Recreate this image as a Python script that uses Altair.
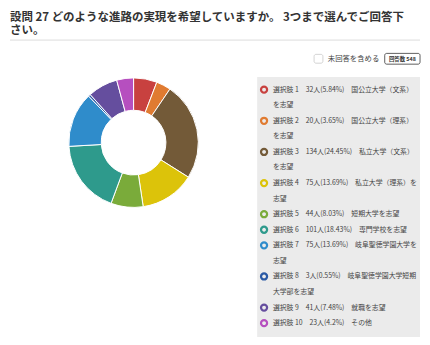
import altair as alt
import pandas as pd

# ---- data ----
choice_no = list(range(1, 11))
counts = [32, 20, 134, 75, 44, 101, 75, 3, 41, 23]
names_first = ["国公立大学（文系）", "国公立大学（理系）", "私立大学（文系）", "私立大学（理系）を",
               "短期大学を志望", "専門学校を志望", "岐阜聖徳学園大学を", "岐阜聖徳学園大学短期",
               "就職を志望", "その他"]
names_rest = ["を志望", "を志望", "を志望", "志望", "", "", "志望", "大学部を志望", "", ""]
colors = ["#c8413f", "#e07b31", "#735a38", "#dcc30a", "#7aab3a",
          "#2e9a8c", "#2f8ccb", "#2b5aa5", "#654e9e", "#b64fbf"]
title_lines = ["設問 27 どのような進路の実現を希望していますか。 3つまで選んでご回答下", "さい。"]
total = sum(counts)

FONT = "Noto Sans CJK JP"


def pct(c):
    return f"{c / total * 100:.2f}".rstrip("0").rstrip(".")


labels = [f"選択肢 {n}　{c}人({pct(c)}%)　{a}" for n, c, a in zip(choice_no, counts, names_first)]

pie_df = pd.DataFrame({"choice": [f"選択肢 {n}" for n in choice_no], "count": counts, "order": choice_no})

rows = []
line = 0
for n, lab, rest in zip(choice_no, labels, names_rest):
    rows.append({"choice": f"選択肢 {n}", "line": line, "text": lab, "first": True})
    line += 1
    if rest:
        rows.append({"choice": f"選択肢 {n}", "line": line, "text": rest, "first": False})
        line += 1
leg_df = pd.DataFrame(rows)
n_lines = line

color_scale = alt.Scale(domain=list(pie_df["choice"]), range=colors)
yscale = alt.Scale(domain=[0, n_lines - 1], range=[80, 318])

OX, OY = 8, 8  # page margin

# title
title = alt.Chart(pd.DataFrame({"a": [0]})).mark_text(
    align="left", baseline="top", font=FONT, fontSize=11.7, fontWeight="bold", color="#333333",
    lineBreak="\n", lineHeight=13.5
).encode(
    x=alt.value(10 - OX),
    y=alt.value(8.5 - OY),
    text=alt.value("\n".join(title_lines)),
)

sep = alt.Chart(pd.DataFrame({"a": [0]})).mark_rule(color="#ebebeb", strokeWidth=2).encode(
    x=alt.value(10 - OX), x2=alt.value(428 - OX), y=alt.value(37.5 - OY)
)

checkbox = alt.Chart(pd.DataFrame({"a": [0]})).mark_rect(
    fill="white", stroke="#c8c8c8", strokeWidth=0.8, cornerRadius=2
).encode(x=alt.value(320 - OX), x2=alt.value(329 - OX), y=alt.value(52 - OY), y2=alt.value(61 - OY))

check_text = alt.Chart(pd.DataFrame({"t": ["未回答を含める"]})).mark_text(
    align="left", baseline="middle", font=FONT, fontSize=7.5, color="#444444"
).encode(x=alt.value(334 - OX), y=alt.value(56.5 - OY), text="t:N")

badge = alt.Chart(pd.DataFrame({"a": [0]})).mark_rect(
    fill="white", stroke="#333333", strokeWidth=0.8, cornerRadius=2
).encode(x=alt.value(392 - OX), x2=alt.value(428 - OX), y=alt.value(51 - OY), y2=alt.value(62 - OY))

badge_text = alt.Chart(pd.DataFrame({"t": [f"回答数 {total}"]})).mark_text(
    align="center", baseline="middle", font=FONT, fontSize=5.5, fontWeight="bold", color="#333333"
).encode(x=alt.value(410 - OX), y=alt.value(56.5 - OY), text="t:N")

panel = alt.Chart(pd.DataFrame({"a": [0]})).mark_rect(fill="#ebebeb").encode(
    x=alt.value(262 - OX), x2=alt.value(428 - OX), y=alt.value(75 - OY), y2=alt.value(340 - OY)
)

pie = alt.Chart(pie_df).mark_arc(innerRadius=33, outerRadius=66, stroke="white", strokeWidth=1).encode(
    theta=alt.Theta("count:Q", stack=True),
    order=alt.Order("order:Q"),
    color=alt.Color("choice:N", scale=color_scale, legend=None),
    x=alt.value(136 - OX),
    y=alt.value(142 - OY),
)

leg_circles = alt.Chart(leg_df[leg_df["first"]]).mark_point(
    shape="circle", filled=False, size=38, strokeWidth=2.3, opacity=1
).encode(
    x=alt.value(269 - OX),
    y=alt.Y("line:Q", scale=yscale, axis=None),
    color=alt.Color("choice:N", scale=color_scale, legend=None),
)

leg_text = alt.Chart(leg_df).mark_text(
    align="left", baseline="middle", font=FONT, fontSize=7, color="#444444"
).encode(
    x=alt.value(278 - OX),
    y=alt.Y("line:Q", scale=yscale, axis=None),
    text="text:N",
)

chart = alt.layer(
    title, sep, checkbox, check_text, badge, badge_text, panel, pie, leg_circles, leg_text
).properties(
    width=422, height=337, autosize=alt.AutoSizeParams(type="none"), padding=0
).configure_view(stroke=None)

chart.save("out.html", embed_options={"renderer": "svg", "actions": False})
